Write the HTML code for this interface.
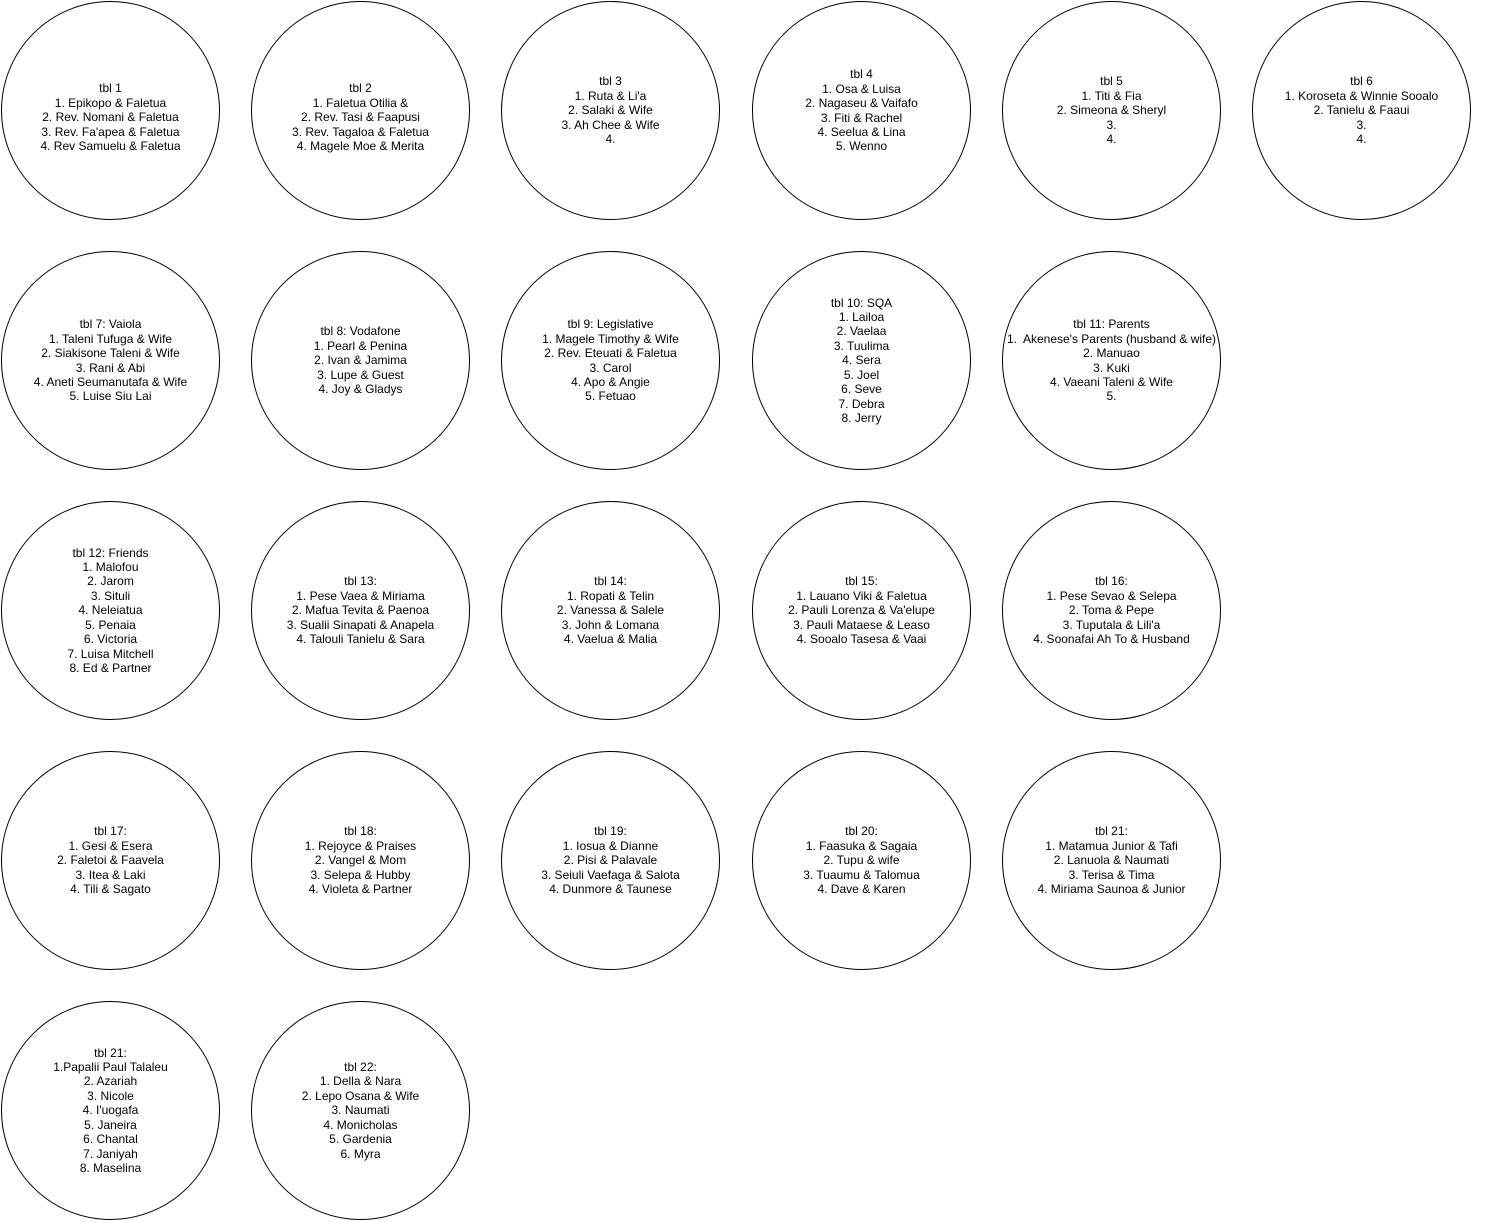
<!DOCTYPE html>
<html><head><meta charset="utf-8"><style>
body{margin:0;width:1491px;height:1222px;background:#fff;position:relative;overflow:hidden;font-family:"Liberation Sans",Arial,sans-serif;font-size:12px;line-height:14.4px;color:#000}
.c{position:absolute;width:219px;height:219px;border:1px solid #000;border-radius:50%;display:flex;align-items:center;justify-content:center;text-align:center;white-space:nowrap;box-sizing:border-box}
.c div.d{margin-top:14px}
</style></head><body>
<div class="c" style="left:1px;top:1px"><div class="d">tbl 1<br>1. Epikopo &amp; Faletua<br>2. Rev. Nomani &amp; Faletua<br>3. Rev. Fa'apea &amp; Faletua<br>4. Rev Samuelu &amp; Faletua</div></div>
<div class="c" style="left:251px;top:1px"><div class="d">tbl 2<br>1. Faletua Otilia &amp;<br>2. Rev. Tasi &amp; Faapusi<br>3. Rev. Tagaloa &amp; Faletua<br>4. Magele Moe &amp; Merita</div></div>
<div class="c" style="left:501px;top:1px"><div>tbl 3<br>1. Ruta &amp; Li'a<br>2. Salaki &amp; Wife<br>3. Ah Chee &amp; Wife<br>4.</div></div>
<div class="c" style="left:752px;top:1px"><div>tbl 4<br>1. Osa &amp; Luisa<br>2. Nagaseu &amp; Vaifafo<br>3. Fiti &amp; Rachel<br>4. Seelua &amp; Lina<br>5. Wenno</div></div>
<div class="c" style="left:1002px;top:1px"><div>tbl 5<br>1. Titi &amp; Fia<br>2. Simeona &amp; Sheryl<br>3.<br>4.</div></div>
<div class="c" style="left:1252px;top:1px"><div>tbl 6<br>1. Koroseta &amp; Winnie Sooalo<br>2. Tanielu &amp; Faaui<br>3.<br>4.</div></div>

<div class="c" style="left:1px;top:251px"><div>tbl 7: Vaiola<br>1. Taleni Tufuga &amp; Wife<br>2. Siakisone Taleni &amp; Wife<br>3. Rani &amp; Abi<br>4. Aneti Seumanutafa &amp; Wife<br>5. Luise Siu Lai</div></div>
<div class="c" style="left:251px;top:251px"><div>tbl 8: Vodafone<br>1. Pearl &amp; Penina<br>2. Ivan &amp; Jamima<br>3. Lupe &amp; Guest<br>4. Joy &amp; Gladys</div></div>
<div class="c" style="left:501px;top:251px"><div>tbl 9: Legislative<br>1. Magele Timothy &amp; Wife<br>2. Rev. Eteuati &amp; Faletua<br>3. Carol<br>4. Apo &amp; Angie<br>5. Fetuao</div></div>
<div class="c" style="left:752px;top:251px"><div>tbl 10: SQA<br>1. Lailoa<br>2. Vaelaa<br>3. Tuulima<br>4. Sera<br>5. Joel<br>6. Seve<br>7. Debra<br>8. Jerry</div></div>
<div class="c" style="left:1002px;top:251px"><div>tbl 11: Parents<br>1.&nbsp; Akenese's Parents (husband &amp; wife)<br>2. Manuao<br>3. Kuki<br>4. Vaeani Taleni &amp; Wife<br>5.</div></div>

<div class="c" style="left:1px;top:501px"><div>tbl 12: Friends<br>1. Malofou<br>2. Jarom<br>3. Situli<br>4. Neleiatua<br>5. Penaia<br>6. Victoria<br>7. Luisa Mitchell<br>8. Ed &amp; Partner</div></div>
<div class="c" style="left:251px;top:501px"><div>tbl 13:<br>1. Pese Vaea &amp; Miriama<br>2. Mafua Tevita &amp; Paenoa<br>3. Sualii Sinapati &amp; Anapela<br>4. Talouli Tanielu &amp; Sara</div></div>
<div class="c" style="left:501px;top:501px"><div>tbl 14:<br>1. Ropati &amp; Telin<br>2. Vanessa &amp; Salele<br>3. John &amp; Lomana<br>4. Vaelua &amp; Malia</div></div>
<div class="c" style="left:752px;top:501px"><div>tbl 15:<br>1. Lauano Viki &amp; Faletua<br>2. Pauli Lorenza &amp; Va'elupe<br>3. Pauli Mataese &amp; Leaso<br>4. Sooalo Tasesa &amp; Vaai</div></div>
<div class="c" style="left:1002px;top:501px"><div>tbl 16:<br>1. Pese Sevao &amp; Selepa<br>2. Toma &amp; Pepe<br>3. Tuputala &amp; Lili'a<br>4. Soonafai Ah To &amp; Husband</div></div>

<div class="c" style="left:1px;top:751px"><div>tbl 17:<br>1. Gesi &amp; Esera<br>2. Faletoi &amp; Faavela<br>3. Itea &amp; Laki<br>4. Tili &amp; Sagato</div></div>
<div class="c" style="left:251px;top:751px"><div>tbl 18:<br>1. Rejoyce &amp; Praises<br>2. Vangel &amp; Mom<br>3. Selepa &amp; Hubby<br>4. Violeta &amp; Partner</div></div>
<div class="c" style="left:501px;top:751px"><div>tbl 19:<br>1. Iosua &amp; Dianne<br>2. Pisi &amp; Palavale<br>3. Seiuli Vaefaga &amp; Salota<br>4. Dunmore &amp; Taunese</div></div>
<div class="c" style="left:752px;top:751px"><div>tbl 20:<br>1. Faasuka &amp; Sagaia<br>2. Tupu &amp; wife<br>3. Tuaumu &amp; Talomua<br>4. Dave &amp; Karen</div></div>
<div class="c" style="left:1002px;top:751px"><div>tbl 21:<br>1. Matamua Junior &amp; Tafi<br>2. Lanuola &amp; Naumati<br>3. Terisa &amp; Tima<br>4. Miriama Saunoa &amp; Junior</div></div>

<div class="c" style="left:1px;top:1001px"><div>tbl 21:<br>1.Papalii Paul Talaleu<br>2. Azariah<br>3. Nicole<br>4. I'uogafa<br>5. Janeira<br>6. Chantal<br>7. Janiyah<br>8. Maselina</div></div>
<div class="c" style="left:251px;top:1001px"><div>tbl 22:<br>1. Della &amp; Nara<br>2. Lepo Osana &amp; Wife<br>3. Naumati<br>4. Monicholas<br>5. Gardenia<br>6. Myra</div></div>
</body></html>
